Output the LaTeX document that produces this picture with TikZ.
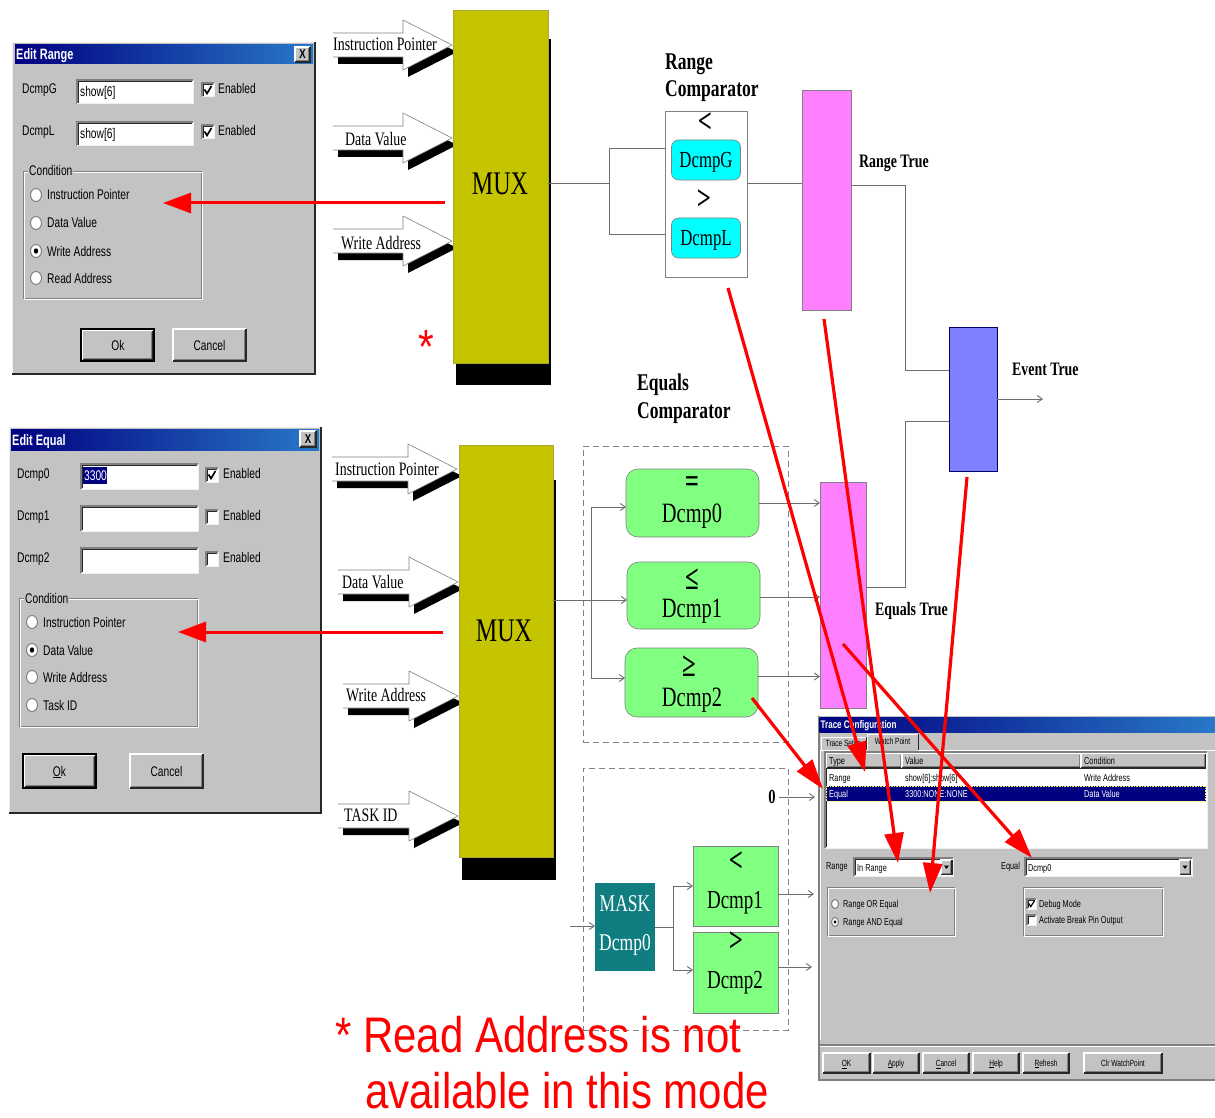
\documentclass[tikz,border=0pt]{standalone}
\usepackage{fontspec}
\usetikzlibrary{arrows.meta}
\newfontfamily\dlgfont[FakeStretch=0.73]{Liberation Sans}
\newfontfamily\serfont[FakeStretch=0.73]{Liberation Serif}
\newfontfamily\notefont[FakeStretch=0.84]{Liberation Sans}

\definecolor{winface}{RGB}{195,195,195}
\definecolor{edgedark}{RGB}{128,128,128}
\definecolor{edgeblack}{RGB}{40,40,40}
\definecolor{edgelight}{RGB}{240,240,240}
\definecolor{titleL}{RGB}{0,0,128}
\definecolor{titleR}{RGB}{40,120,200}
\definecolor{selnavy}{RGB}{0,0,128}
\definecolor{muxolive}{RGB}{197,196,0}
\definecolor{barpink}{RGB}{255,128,255}
\definecolor{barblue}{RGB}{128,128,255}
\definecolor{cmpcyan}{RGB}{0,255,255}
\definecolor{cmpgreen}{RGB}{128,255,128}
\definecolor{maskteal}{RGB}{16,126,128}
\definecolor{wiregray}{RGB}{110,110,110}

% --- window widgets (x1,y1 = top left, x2,y2 = bottom right) ---
\newcommand\wgFrame[4]{%
  \fill[winface] (#1,#2) rectangle (#3,#4);
  \draw[edgelight, line width=1.2pt] (#1+0.6,#4) -- (#1+0.6,#2+0.6) -- (#3,#2+0.6);
  \draw[edgeblack, line width=1.6pt] (#1,#4-0.8) -- (#3-0.8,#4-0.8) -- (#3-0.8,#2);
}
\newcommand\wgField[4]{%
  \fill[white] (#1,#2) rectangle (#3,#4);
  \draw[edgedark, line width=1.2pt] (#1,#4) -- (#1,#2) -- (#3,#2);
  \draw[edgeblack, line width=1pt] (#1+1.3,#4-1.3) -- (#1+1.3,#2+1.3) -- (#3-1.3,#2+1.3);
  \draw[edgelight, line width=1pt] (#1,#4) -- (#3,#4) -- (#3,#2);
}
\newcommand\wgButton[4]{%
  \fill[winface] (#1,#2) rectangle (#3,#4);
  \draw[white, line width=1.2pt] (#1,#4) -- (#1,#2) -- (#3,#2);
  \draw[edgeblack, line width=1.2pt] (#1,#4) -- (#3,#4) -- (#3,#2);
  \draw[edgedark, line width=1pt] (#1+1.4,#4-1.4) -- (#3-1.4,#4-1.4) -- (#3-1.4,#2+1.4);
}
\newcommand\wgGroup[4]{%
  \draw[edgedark, line width=0.9pt] (#1,#2) rectangle (#3,#4);
  \draw[white, line width=0.9pt] (#1+1,#2+1) rectangle (#3+1,#4+1);
}
\newcommand\wgBox[2]{\wgField{#1}{#2-7}{#1+12}{#2+7}}
\newcommand\wgTick[2]{\draw[black, line width=1.7pt] (#1+2.5,#2-0.5) -- (#1+5,#2+3.5) -- (#1+9.5,#2-4);}
\newcommand\wgRadio[4]{\filldraw[fill=white, draw=edgedark, line width=1pt] (#1,#2) ellipse (#3pt and #4pt);}
\newcommand\wgDot[4]{\fill[black] (#1,#2) ellipse (#3pt and #4pt);}
\newcommand\wgDrop[2]{%
  \wgButton{#1}{#2}{#1+11}{#2+14.5}
  \fill[black] (#1+3,#2+5.5) -- (#1+8,#2+5.5) -- (#1+5.5,#2+9) -- cycle;
}
% --- white input arrow with a black drop shadow: shaft start, centre line, tip ---
\newcommand\inArrow[3]{%
  \fill[black] (#1+5,#2-5) -- (#3-44,#2-5) -- (#3-44,#2-18) -- (#3+5,#2+7)
     -- (#3-44,#2+32) -- (#3-44,#2+19) -- (#1+5,#2+19) -- cycle;
  \fill[white] (#1,#2-12) -- (#3-49,#2-12) -- (#3-49,#2-25) -- (#3,#2)
     -- (#3-49,#2+25) -- (#3-49,#2+12) -- (#1,#2+12) -- cycle;
  \draw[edgedark, line width=0.6pt] (#1,#2-12) -- (#3-49,#2-12) -- (#3-49,#2-25) -- (#3,#2)
     -- (#3-49,#2+25) -- (#3-49,#2+12) -- (#1,#2+12);
}

\begin{document}
\begin{tikzpicture}[x=1pt,y=-1pt,
  wire/.style={draw=wiregray, line width=0.9pt},
  wtip/.style={wire, -{Straight Barb[length=5pt,width=7pt]}},
  redarr/.style={draw=red, line width=3.2pt, -{Triangle[length=30pt,width=19pt]}},
  redarrL/.style={draw=red, line width=3pt, -{Triangle[length=28pt,width=20pt]}},
  dtext/.style={font=\dlgfont\fontsize{14}{14}\selectfont, inner sep=0pt, text height=10pt, text depth=0pt, anchor=west},
  dctext/.style={dtext, anchor=center},
  dtitle/.style={font=\dlgfont\bfseries\fontsize{15}{15}\selectfont, text=white, inner sep=0pt, text height=11pt, text depth=0pt, anchor=west},
  ttitle/.style={font=\dlgfont\bfseries\fontsize{11}{11}\selectfont, text=white, inner sep=0pt, text height=8pt, text depth=0pt, anchor=west},
  ttext/.style={font=\dlgfont\fontsize{10}{10}\selectfont, inner sep=0pt, text height=7pt, text depth=0pt, anchor=west},
  btext/.style={font=\dlgfont\fontsize{9}{9}\selectfont, inner sep=0pt, text height=6.5pt, text depth=0pt, anchor=center},
  arrtxt/.style={font=\serfont\fontsize{19}{19}\selectfont, inner sep=0pt, text height=12.5pt, text depth=0pt, anchor=west},
  headtxt/.style={font=\serfont\bfseries\fontsize{24}{24}\selectfont, inner sep=0pt, text height=16pt, text depth=0pt, anchor=west},
  sigtxt/.style={font=\serfont\bfseries\fontsize{19}{19}\selectfont, inner sep=0pt, text height=12.5pt, text depth=0pt, anchor=west},
  muxtxt/.style={font=\serfont\fontsize{33}{33}\selectfont, inner sep=0pt, text height=22pt, text depth=0pt},
  muxbox/.style={fill=muxolive, draw=muxolive!60!gray, line width=0.6pt, inner sep=0pt, outer sep=0pt},
  rcframe/.style={draw=edgedark, fill=white, line width=0.8pt, inner sep=0pt, outer sep=0pt},
  cyanbox/.style={draw=edgedark, fill=cmpcyan, rounded corners=7pt, line width=0.6pt, inner sep=0pt, outer sep=0pt,
    font=\serfont\fontsize{23}{23}\selectfont, text height=15pt, text depth=0pt},
  greenbox/.style={draw=edgedark, fill=cmpgreen, rounded corners=12pt, line width=0.6pt, inner sep=0pt, outer sep=0pt},
  greensq/.style={draw=edgedark, fill=cmpgreen, line width=0.6pt, inner sep=0pt, outer sep=0pt},
  pinkbar/.style={draw=edgedark, fill=barpink, line width=0.8pt, inner sep=0pt, outer sep=0pt},
  bluebar/.style={draw=blue!40!black, fill=barblue, line width=0.8pt, inner sep=0pt, outer sep=0pt},
  tealbox/.style={fill=maskteal, inner sep=0pt, outer sep=0pt},
  dashframe/.style={draw=edgedark, dash pattern=on 6pt off 4pt, line width=0.8pt, inner sep=0pt, outer sep=0pt},
  cmptxt/.style={font=\serfont\fontsize{28}{28}\selectfont, inner sep=0pt, text height=18.5pt, text depth=0pt},
  smtxt/.style={font=\serfont\fontsize{26}{26}\selectfont, inner sep=0pt, text height=17pt, text depth=0pt},
  symtxt/.style={font=\serfont\bfseries\fontsize{34}{34}\selectfont, inner sep=0pt},
  notetxt/.style={font=\notefont\fontsize{50}{50}\selectfont, text=red, inner sep=0pt, anchor=base west},
  masktxt/.style={font=\serfont\fontsize{24}{24}\selectfont, text=white, inner sep=0pt, text height=16pt, text depth=0pt}
]
\fill[white] (0,0) rectangle (1215,1118);
\useasboundingbox (0,0) rectangle (1215,1118);

% ================= Edit Range dialog =================
\wgFrame{12}{42}{316}{375}
\shade[left color=titleL, right color=titleR] (15,45) rectangle (313,64);
\node[dtitle] (erTitle) at (16,54.5) {Edit Range};
\wgButton{295}{47}{310}{62}
\node[font=\dlgfont\bfseries\fontsize{13}{13}\selectfont, inner sep=0pt] (erClose) at (302.5,54.5) {X};
\node[dtext] (erLblG) at (22,89) {DcmpG};
\wgField{77}{80}{193}{104}
\node[dtext] (erValG) at (80,92) {show[6]};
\wgBox{202}{90}\wgTick{202}{90}
\node[dtext] (erEnG) at (218,89) {Enabled};
\node[dtext] (erLblL) at (22,131) {DcmpL};
\wgField{77}{122}{193}{146}
\node[dtext] (erValL) at (80,134) {show[6]};
\wgBox{202}{132}\wgTick{202}{132}
\node[dtext] (erEnL) at (218,131) {Enabled};
\wgGroup{23}{171}{201}{298}
\node[dtext, fill=winface, inner xsep=1pt] (erCond) at (28,171) {Condition};
\wgRadio{36}{195}{5.5}{6.5}
\wgRadio{36}{223}{5.5}{6.5}
\wgRadio{36}{251}{5.5}{6.5}\wgDot{36}{251}{2.2}{2.7}
\wgRadio{36}{278}{5.5}{6.5}
\node[dtext] (erOptIP) at (47,195) {Instruction Pointer};
\node[dtext] (erOptDV) at (47,223) {Data Value};
\node[dtext] (erOptWA) at (47,251) {Write Address};
\node[dtext] (erOptRA) at (47,278) {Read Address};
\draw[black, line width=1.2pt] (81,329) rectangle (154,361);
\wgButton{82.5}{330.5}{152.5}{359.5}
\node[dctext] (erOk) at (118,345) {Ok};
\wgButton{173}{329}{246}{361}
\node[dctext] (erCancel) at (209.5,345) {Cancel};

% ================= Edit Equal dialog =================
\wgFrame{9}{427}{322}{814}
\shade[left color=titleL, right color=titleR] (11,429) rectangle (319,450);
\node[dtitle] (eeTitle) at (12,439.5) {Edit Equal};
\wgButton{300}{431}{316}{447}
\node[font=\dlgfont\bfseries\fontsize{13}{13}\selectfont, inner sep=0pt] (eeClose) at (308,439) {X};
\node[dtext] (eeLbl0) at (17,473) {Dcmp0};
\node[dtext] (eeLbl1) at (17,515) {Dcmp1};
\node[dtext] (eeLbl2) at (17,557) {Dcmp2};
\wgField{81}{464}{198}{489}
\wgField{81}{506}{198}{531}
\wgField{81}{548}{198}{573}
\fill[selnavy] (83,467) rectangle (107,484);
\node[dtext, text=white] (eeVal0) at (84,475.5) {3300};
\wgBox{206}{475}\wgTick{206}{475}
\wgBox{206}{517}
\wgBox{206}{559}
\node[dtext] (eeEn0) at (223,473) {Enabled};
\node[dtext] (eeEn1) at (223,515) {Enabled};
\node[dtext] (eeEn2) at (223,557) {Enabled};
\wgGroup{19}{598}{197}{726}
\node[dtext, fill=winface, inner xsep=1pt] (eeCond) at (24,598) {Condition};
\wgRadio{32}{622}{5.5}{6.5}
\wgRadio{32}{650}{5.5}{6.5}\wgDot{32}{650}{2.2}{2.7}
\wgRadio{32}{677}{5.5}{6.5}
\wgRadio{32}{705}{5.5}{6.5}
\node[dtext] (eeOptIP) at (43,622) {Instruction Pointer};
\node[dtext] (eeOptDV) at (43,650) {Data Value};
\node[dtext] (eeOptWA) at (43,677) {Write Address};
\node[dtext] (eeOptTI) at (43,705) {Task ID};
\draw[black, line width=1.2pt] (23,754) rectangle (96,788);
\wgButton{24.5}{755.5}{94.5}{786.5}
\node[dctext] (eeOk) at (59.5,771) {\underline{O}k};
\wgButton{130}{754}{203}{788}
\node[dctext] (eeCancel) at (166.5,771) {Cancel};

% ================= range multiplexer =================
\inArrow{333}{45}{452}
\inArrow{333}{138}{452}
\inArrow{333}{241}{452}
\node[arrtxt] (aIP) at (333,44) {Instruction Pointer};
\node[arrtxt] (aDV) at (345,139) {Data Value};
\node[arrtxt] (aWA) at (341,243) {Write Address};
\fill[black] (456,39) rectangle (551,385);
\node[muxbox, minimum width=95pt, minimum height=353pt] (muxA) at (500.5,186.5) {};
\node[muxtxt] (muxAtxt) at (500,183.5) {MUX};
\node[font=\notefont\fontsize{48}{48}\selectfont, text=red, inner sep=0pt] (star) at (426,347) {*};

% ================= equals multiplexer =================
\inArrow{332}{469}{457}
\inArrow{338}{582}{458}
\inArrow{343}{696}{458}
\inArrow{338}{816}{458}
\node[arrtxt] (bIP) at (335,469) {Instruction Pointer};
\node[arrtxt] (bDV) at (342,582) {Data Value};
\node[arrtxt] (bWA) at (346,695) {Write Address};
\node[arrtxt] (bTI) at (344,815) {TASK ID};
\fill[black] (462,480) rectangle (556,880);
\node[muxbox, minimum width=94pt, minimum height=412pt] (muxB) at (506,651) {};
\node[muxtxt] (muxBtxt) at (504,630) {MUX};

% ================= range comparator =================
\node[headtxt] (rcHead1) at (665,61.5) {Range};
\node[headtxt] (rcHead2) at (665,88.5) {Comparator};
\node[rcframe, minimum width=82pt, minimum height=166pt] (rcBox) at (706,194) {};
\node[symtxt] (rcLess) at (705,123) {<};
\node[cyanbox, minimum width=69pt, minimum height=40pt] (rcG) at (706,160) {DcmpG};
\node[symtxt] (rcMore) at (704,200) {>};
\node[cyanbox, minimum width=69pt, minimum height=40pt] (rcL) at (706,238) {DcmpL};
\node[pinkbar, minimum width=49pt, minimum height=220pt] (rtBar) at (826.5,200) {};
\node[sigtxt] (rtLbl) at (859,161) {Range True};

\coordinate (rcSplit) at (609,183);
\coordinate (rcTop) at (609,148);
\coordinate (rcBot) at (609,234);
\draw[wire] (rcSplit -| muxA.east) -- (rcSplit);
\draw[wire] (rcTop -| rcBox.west) -- (rcTop) -- (rcBot) -- (rcBot -| rcBox.west);
\draw[wire] (rcSplit -| rcBox.east) -- (rcSplit -| rtBar.west);

% ================= event combiner =================
\node[bluebar, minimum width=48pt, minimum height=144pt] (evBar) at (973,399) {};
\node[sigtxt] (evLbl) at (1012,369) {Event True};
\coordinate (evJoin) at (905,185);
\coordinate (evIn1) at (905,370);
\coordinate (evIn2) at (905,421);
\coordinate (etJoin) at (905,587);
\coordinate (evOut) at (1043,399);

% ================= equals comparator =================
\node[headtxt] (ecHead1) at (637,382.5) {Equals};
\node[headtxt] (ecHead2) at (637,410.5) {Comparator};
\node[dashframe, minimum width=205pt, minimum height=296pt] (ecFrame) at (685.5,594) {};
\node[greenbox, minimum width=133pt, minimum height=68pt] (eq0) at (692.5,503) {};
\node[symtxt] (eq0s) at (692,485) {=};
\node[cmptxt] (eq0t) at (692,513) {Dcmp0};
\node[greenbox, minimum width=133pt, minimum height=67pt] (eq1) at (693.5,595.5) {};
\node[symtxt] (eq1s) at (692,579) {≤};
\node[cmptxt] (eq1t) at (692,608) {Dcmp1};
\node[greenbox, minimum width=133pt, minimum height=69pt] (eq2) at (691.5,682.5) {};
\node[symtxt] (eq2s) at (689,666) {≥};
\node[cmptxt] (eq2t) at (692,697) {Dcmp2};
\node[pinkbar, minimum width=46pt, minimum height=226pt] (etBar) at (843,595) {};
\node[sigtxt] (etLbl) at (875,609) {Equals True};

\coordinate (ecSplit) at (591,600);
\coordinate (ecTop) at (591,507);
\coordinate (ecBot) at (591,678);
\draw[wtip] (ecSplit -| muxB.east) -- (ecSplit -| eq1.west);
\draw[wire] (ecTop) -- (ecBot);
\draw[wtip] (ecTop) -- (ecTop -| eq0.west);
\draw[wtip] (ecBot) -- (ecBot -| eq2.west);
\coordinate (eo1) at ([yshift=-1.5pt]eq1.east);
\coordinate (eo2) at ([yshift=6pt]eq2.east);
\draw[wtip] (eq0.east) -- (eq0.east -| etBar.west);
\draw[wtip] (eo1) -- (eo1 -| etBar.west);
\draw[wtip] (eo2) -- (eo2 -| etBar.west);

\draw[wire] (evJoin -| rtBar.east) -- (evJoin) -- (evIn1) -- (evIn1 -| evBar.west);
\draw[wire] (etJoin -| etBar.east) -- (etJoin) -- (evIn2) -- (evIn2 -| evBar.west);
\draw[wtip] (evBar.east) -- (evOut);

% ================= mask comparator =================
\node[dashframe, minimum width=205pt, minimum height=262pt] (mkFrame) at (685.5,899) {};
\node[font=\serfont\bfseries\fontsize{20}{20}\selectfont, inner sep=0pt] (mkZero) at (772,797) {0};
\coordinate (mkZeroOut) at (815,797);
\draw[wtip] ([xshift=3pt]mkZero.east) -- (mkZeroOut);
\node[tealbox, minimum width=60pt, minimum height=88pt] (mask) at (625,927) {};
\node[masktxt] (maskT1) at (625,903) {MASK};
\node[masktxt] (maskT2) at (625,942) {Dcmp0};
\node[greensq, minimum width=85pt, minimum height=80pt] (m1) at (735.5,886) {};
\node[symtxt] (m1s) at (736,862) {<};
\node[smtxt] (m1t) at (735,900) {Dcmp1};
\node[greensq, minimum width=85pt, minimum height=81pt] (m2) at (735.5,972.5) {};
\node[symtxt] (m2s) at (736,942) {>};
\node[smtxt] (m2t) at (735,980) {Dcmp2};
\coordinate (mkIn) at (570,926);
\coordinate (mkTop) at (673,886);
\coordinate (mkBot) at (673,970);
\draw[wtip] (mkIn) -- (mkIn -| mask.west);
\draw[wire] (mask.east) -- (mask.east -| mkTop);
\draw[wire] (mkTop) -- (mkBot);
\draw[wtip] (mkTop) -- (mkTop -| m1.west);
\draw[wtip] (mkBot) -- (mkBot -| m2.west);
\coordinate (m1Out) at (814,894);
\coordinate (m2Out) at (812,967);
\draw[wtip] (m1Out -| m1.east) -- (m1Out);
\draw[wtip] (m2Out -| m2.east) -- (m2Out);

% ================= Trace Configuration dialog =================
\fill[winface] (818,716) rectangle (1215,1081);
\draw[edgedark, line width=1.6pt] (818.8,716) -- (818.8,1080.2) -- (1215,1080.2);
\shade[left color=titleL, right color=titleR] (819.6,717) rectangle (1215,732);
\node[ttitle] (tcTitle) at (820.5,724.5) {Trace Configuration};
\draw[white, line width=1pt] (821,750) -- (821,737) -- (866,737);
\draw[edgeblack, line width=1pt] (866,737) -- (866,750);
\node[btext] (tcTab1) at (843.5,743) {Trace Setup};
\draw[white, line width=1pt] (867,750) -- (867,734) -- (918,734);
\draw[edgeblack, line width=1pt] (918,734) -- (918,750);
\node[btext] (tcTab2) at (892.5,741.5) {Watch Point};
\draw[white, line width=1pt] (820.5,1040) -- (820.5,750) -- (867,750);
\draw[white, line width=1pt] (918,750) -- (1215,750);
\wgField{825}{752}{1207}{848}
\wgButton{826.5}{753.5}{902}{768}
\wgButton{902}{753.5}{1081}{768}
\wgButton{1081}{753.5}{1205.5}{768}
\node[ttext] (tcHType) at (829,761) {Type};
\node[ttext] (tcHValue) at (905,761) {Value};
\node[ttext] (tcHCond) at (1084,761) {Condition};
\node[ttext] (tcR1a) at (829,777.5) {Range};
\node[ttext] (tcR1b) at (905,777.5) {show[6]:show[6]};
\node[ttext] (tcR1c) at (1084,777.5) {Write Address};
\fill[selnavy] (826.5,786) rectangle (1205.5,801);
\draw[yellow!70!white, densely dotted, line width=0.6pt] (826.5,786) rectangle (1205.5,801);
\node[ttext, text=white] (tcR2a) at (829,793.5) {Equal};
\node[ttext, text=white] (tcR2b) at (905,793.5) {3300:NONE:NONE};
\node[ttext, text=white] (tcR2c) at (1084,793.5) {Data Value};
\node[ttext] (tcRangeLbl) at (826,866) {Range};
\wgField{854}{858}{953}{876}
\node[ttext] (tcRangeVal) at (857,867.5) {In Range};
\wgDrop{941}{860}
\node[ttext] (tcEqualLbl) at (1001,866) {Equal};
\wgField{1025}{858}{1192}{876}
\node[ttext] (tcEqualVal) at (1028,867.5) {Dcmp0};
\wgDrop{1179.5}{860}
\wgGroup{827}{887}{954}{935}
\wgRadio{835}{904}{3.5}{4.5}
\wgRadio{835}{922}{3.5}{4.5}\wgDot{835}{922}{1.5}{1.8}
\node[ttext] (tcOptOr) at (843,904) {Range OR Equal};
\node[ttext] (tcOptAnd) at (843,922) {Range AND Equal};
\wgGroup{1023}{887}{1162}{935}
\wgField{1027}{899}{1036}{909}
\draw[black, line width=1.2pt] (1028.7,903.5) -- (1030.7,906.6) -- (1034.5,900.8);
\wgField{1027}{915}{1036}{925}
\node[ttext] (tcDebug) at (1039,904) {Debug Mode};
\node[ttext] (tcBreak) at (1039,920) {Activate Break Pin Output};
\draw[edgedark, line width=1.4pt] (819.6,1045) -- (1215,1045);
\draw[white, line width=1pt] (819.6,1046.8) -- (1215,1046.8);
\wgButton{823}{1053}{870}{1073}
\wgButton{873}{1053}{919}{1073}
\wgButton{923}{1053}{969}{1073}
\wgButton{973}{1053}{1019}{1073}
\wgButton{1023}{1053}{1069}{1073}
\wgButton{1084}{1053}{1162}{1073}
\node[btext] (tcOk) at (846.5,1063) {\underline{O}K};
\node[btext] (tcApply) at (896,1063) {\underline{A}pply};
\node[btext] (tcCancel) at (946,1063) {\underline{C}ancel};
\node[btext] (tcHelp) at (996,1063) {\underline{H}elp};
\node[btext] (tcRefresh) at (1046,1063) {\underline{R}efresh};
\node[btext] (tcClear) at (1123,1063) {Clr WatchPoint};

% ================= red pointers =================
\coordinate (rpMuxA) at (445,203);
\coordinate (rpCondA) at (163,203);
\coordinate (rpMuxB) at (443,632);
\coordinate (rpCondB) at (178,632);
\draw[redarrL] (rpMuxA) -- (rpCondA);
\draw[redarrL] (rpMuxB) -- (rpCondB);
\coordinate (rpRange) at (728,288);
\coordinate (rpRangeRow) at (865,772);
\coordinate (rpRangeTrue) at (824,319);
\coordinate (rpInRange) at (898,863);
\coordinate (rpEvent) at (967,477);
\coordinate (rpAndOr) at (930,893);
\coordinate (rpEqTrue) at (843,644);
\coordinate (rpEqCombo) at (1032,858);
\coordinate (rpDcmp2) at (752,698);
\coordinate (rpEqualRow) at (823,789);
\draw[redarr] (rpRange) -- (rpRangeRow);
\draw[redarr] (rpRangeTrue) -- (rpInRange);
\draw[redarr] (rpEvent) -- (rpAndOr);
\draw[redarr] (rpEqTrue) -- (rpEqCombo);
\draw[redarr] (rpDcmp2) -- (rpEqualRow);

% ================= footnote =================
\node[notetxt] (note1) at (335,1052) {* Read Address is not};
\node[notetxt] (note2) at (365,1108) {available in this mode};
\end{tikzpicture}
\end{document}
